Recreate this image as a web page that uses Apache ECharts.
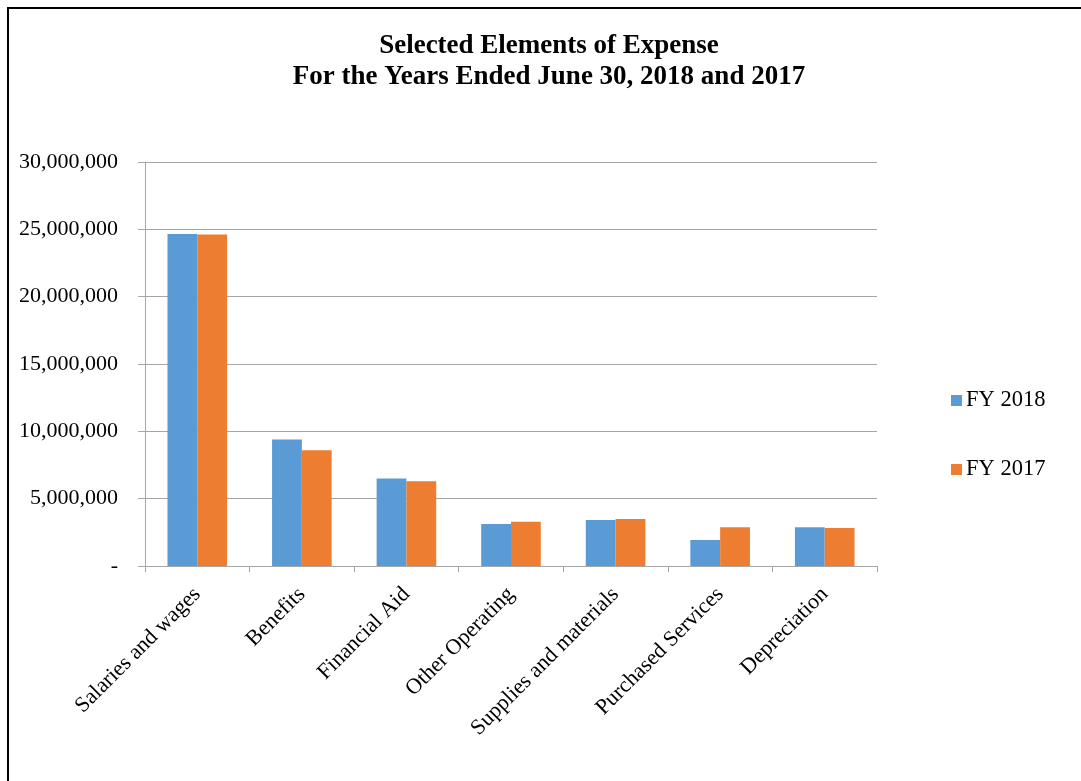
<!DOCTYPE html>
<html>
<head>
<meta charset="utf-8">
<script src="https://cdn.jsdelivr.net/npm/echarts@6/dist/echarts.min.js"></script>
<style>
  html, body { margin: 0; padding: 0; background: #fff; }
  #frame { position: absolute; left: 7px; top: 7px; width: 1074px; height: 774px; border-top: 2px solid #000; border-left: 2px solid #000; box-sizing: border-box; }
  #chart { position: absolute; left: 0; top: 0; width: 1081px; height: 781px; }
</style>
</head>
<body>
<div id="frame"></div>
<div id="chart"></div>
<script>
const categories = ["Salaries and wages", "Benefits", "Financial Aid", "Other Operating", "Supplies and materials", "Purchased Services", "Depreciation"];
const fy2018 = [24650000, 9400000, 6500000, 3120000, 3410000, 1930000, 2870000];
const fy2017 = [24620000, 8600000, 6300000, 3290000, 3490000, 2870000, 2820000];
const seriesNames = ["FY 2018", "FY 2017"];
const titleLines = ["Selected Elements of Expense", "For the Years Ended June 30, 2018 and 2017"];

const chart = echarts.init(document.getElementById('chart'), null, { renderer: 'canvas' });
const font = '"Liberation Serif", "Times New Roman", serif';
chart.setOption({
  animation: false,
  backgroundColor: 'transparent',
  title: {
    text: titleLines.join('\n'),
    left: 544,
    top: 26,
    textAlign: 'center',
    textStyle: { fontFamily: font, fontSize: 27, fontWeight: 'bold', color: '#000', lineHeight: 31 }
  },
  legend: {
    orient: 'vertical',
    left: 946,
    top: 384,
    itemWidth: 11,
    itemHeight: 11,
    itemGap: 46,
    icon: 'rect',
    data: seriesNames,
    textStyle: { fontFamily: font, fontSize: 22.5, color: '#000', padding: [0, 0, 0, -1] }
  },
  grid: { left: 145, right: 204, top: 162, bottom: 215, containLabel: false },
  xAxis: {
    type: 'category',
    data: categories,
    axisLine: { lineStyle: { color: '#A6A6A6', width: 1 } },
    axisTick: { show: true, length: 6, lineStyle: { color: '#A6A6A6' } },
    axisLabel: { rotate: 45, interval: 0, margin: 25, fontFamily: font, fontSize: 22, color: '#000' }
  },
  yAxis: {
    type: 'value',
    min: 0, max: 30000000, interval: 5000000,
    axisLine: { show: true, lineStyle: { color: '#A6A6A6', width: 1 } },
    axisTick: { show: true, length: 7, lineStyle: { color: '#A6A6A6' } },
    splitLine: { lineStyle: { color: '#A6A6A6', width: 1 } },
    axisLabel: {
      margin: 27, fontFamily: font, fontSize: 22, color: '#000',
      formatter: v => v === 0 ? '-' : v.toLocaleString('en-US')
    }
  },
  series: [
    { name: seriesNames[0], type: 'bar', data: fy2018, barGap: '0%', barCategoryGap: '43%', itemStyle: { color: '#5B9BD5' } },
    { name: seriesNames[1], type: 'bar', data: fy2017, barGap: '0%', barCategoryGap: '43%', itemStyle: { color: '#ED7D31' } }
  ]
});
</script>
</body>
</html>
